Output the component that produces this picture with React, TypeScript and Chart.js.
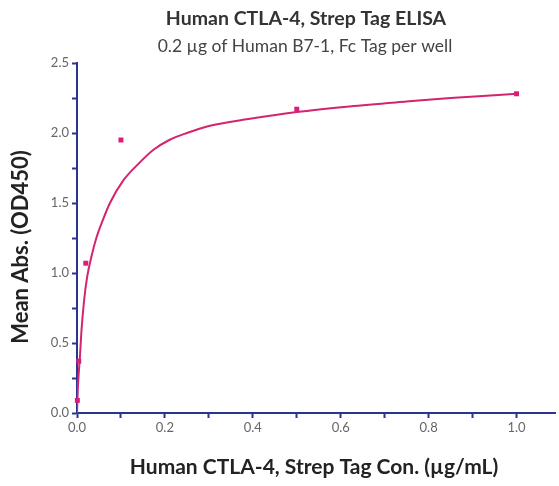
import React, { useEffect, useRef } from "react";
import { Chart, registerables } from "chart.js";

Chart.register(...registerables);

const titleText = "Human CTLA-4, Strep Tag ELISA";
const subtitleText = "0.2 µg of Human B7-1, Fc Tag per well";
const xTitle = "Human CTLA-4, Strep Tag Con. (µg/mL)";
const yTitle = "Mean Abs. (OD450)";

const concentrations = [1.0, 0.5, 0.1, 0.02, 0.004, 0.0008];
const meanAbs = [2.28, 2.17, 1.95, 1.07, 0.37, 0.09];

const curveX = [0, 0.002, 0.007, 0.01, 0.016, 0.023, 0.033, 0.044, 0.059, 0.075, 0.105, 0.143, 0.174, 0.21, 0.25, 0.3, 0.39, 0.5, 0.62, 0.75, 0.85, 1.0];
const curveY = [0, 0.18, 0.42, 0.58, 0.8, 0.97, 1.12, 1.25, 1.38, 1.5, 1.66, 1.79, 1.88, 1.95, 2.0, 2.05, 2.1, 2.15, 2.19, 2.225, 2.25, 2.28];

const xTicks = [0, 0.1, 0.2, 0.3, 0.4, 0.5, 0.6, 0.7, 0.8, 0.9, 1.0];
const xTickLabels = ["0.0", "", "0.2", "", "0.4", "", "0.6", "", "0.8", "", "1.0"];
const yTicks = [0, 0.25, 0.5, 0.75, 1.0, 1.25, 1.5, 1.75, 2.0, 2.25, 2.5];
const yTickLabels = ["0.0", "", "0.5", "", "1.0", "", "1.5", "", "2.0", "", "2.5"];

const FONT = "Lato";
const AXIS_COLOR = "#2b3590";
const MARK_COLOR = "#e0197a";
const LINE_COLOR = "#d4246e";

const textPlugin = {
  id: "textPlugin",
  afterDraw(chart: any) {
    const ctx = chart.ctx;
    ctx.save();
    ctx.fillStyle = "#333333";
    ctx.textAlign = "center";
    ctx.textBaseline = "middle";
    ctx.font = `bold 19.5px ${FONT}`;
    ctx.fillText(titleText, 306, 19);
    ctx.fillStyle = "#444444";
    ctx.font = `17.5px ${FONT}`;
    ctx.fillText(subtitleText, 305, 46);
    ctx.fillStyle = "#222222";
    ctx.font = `bold 21px ${FONT}`;
    ctx.fillText(xTitle, 314, 467);
    ctx.font = `bold 22px ${FONT}`;
    ctx.translate(21, 247);
    ctx.rotate(-Math.PI / 2);
    ctx.fillText(yTitle, 0, 0);
    ctx.restore();
  },
};

export default function App() {
  const ref = useRef<HTMLCanvasElement>(null);
  useEffect(() => {
    document.body.style.margin = "0";
    const canvas = ref.current!;
    const chart = new Chart(canvas, {
      type: "scatter",
      data: {
        datasets: [
          {
            label: "fit",
            data: curveX.map((x, i) => ({ x, y: curveY[i] })),
            showLine: true,
            borderColor: LINE_COLOR,
            borderWidth: 2,
            pointRadius: 0,
            cubicInterpolationMode: "monotone",
            fill: false,
          },
          {
            label: "data",
            data: concentrations.map((x, i) => ({ x, y: meanAbs[i] })),
            pointStyle: "rect",
            pointRadius: 3.5,
            backgroundColor: MARK_COLOR,
            borderColor: MARK_COLOR,
            borderWidth: 0,
            clip: false,
          },
        ],
      },
      options: {
        animation: false,
        responsive: false,
        layout: { padding: { top: 63, right: 0, left: 0, bottom: 0 } },
        plugins: { legend: { display: false }, tooltip: { enabled: false } },
        scales: {
          x: {
            type: "linear",
            min: 0,
            max: 1.0875,
            border: { color: AXIS_COLOR, width: 2 },
            grid: { drawOnChartArea: false, drawTicks: true, tickLength: 5, color: AXIS_COLOR, tickWidth: 2 },
            afterBuildTicks: (s: any) => {
              s.ticks = xTicks.map((value) => ({ value }));
            },
            ticks: {
              color: "#666666",
              font: { family: FONT, size: 13 },
              padding: 2,
              maxRotation: 0,
              autoSkip: false,
              callback: (_v: any, i: number) => xTickLabels[i] ?? "",
            },
            afterFit: (s: any) => {
              s.height = 73;
            },
          },
          y: {
            type: "linear",
            min: 0,
            max: 2.5,
            border: { color: AXIS_COLOR, width: 2 },
            grid: { drawOnChartArea: false, drawTicks: true, tickLength: 5, color: AXIS_COLOR, tickWidth: 2 },
            afterBuildTicks: (s: any) => {
              s.ticks = yTicks.map((value) => ({ value }));
            },
            ticks: {
              color: "#666666",
              font: { family: FONT, size: 13 },
              padding: 3,
              autoSkip: false,
              callback: (_v: any, i: number) => yTickLabels[i] ?? "",
            },
            afterFit: (s: any) => {
              s.width = 77;
            },
          },
        },
      },
      plugins: [textPlugin],
    } as any);
    return () => chart.destroy();
  }, []);
  return <canvas ref={ref} width={559} height={486} style={{ display: "block" }} />;
}
